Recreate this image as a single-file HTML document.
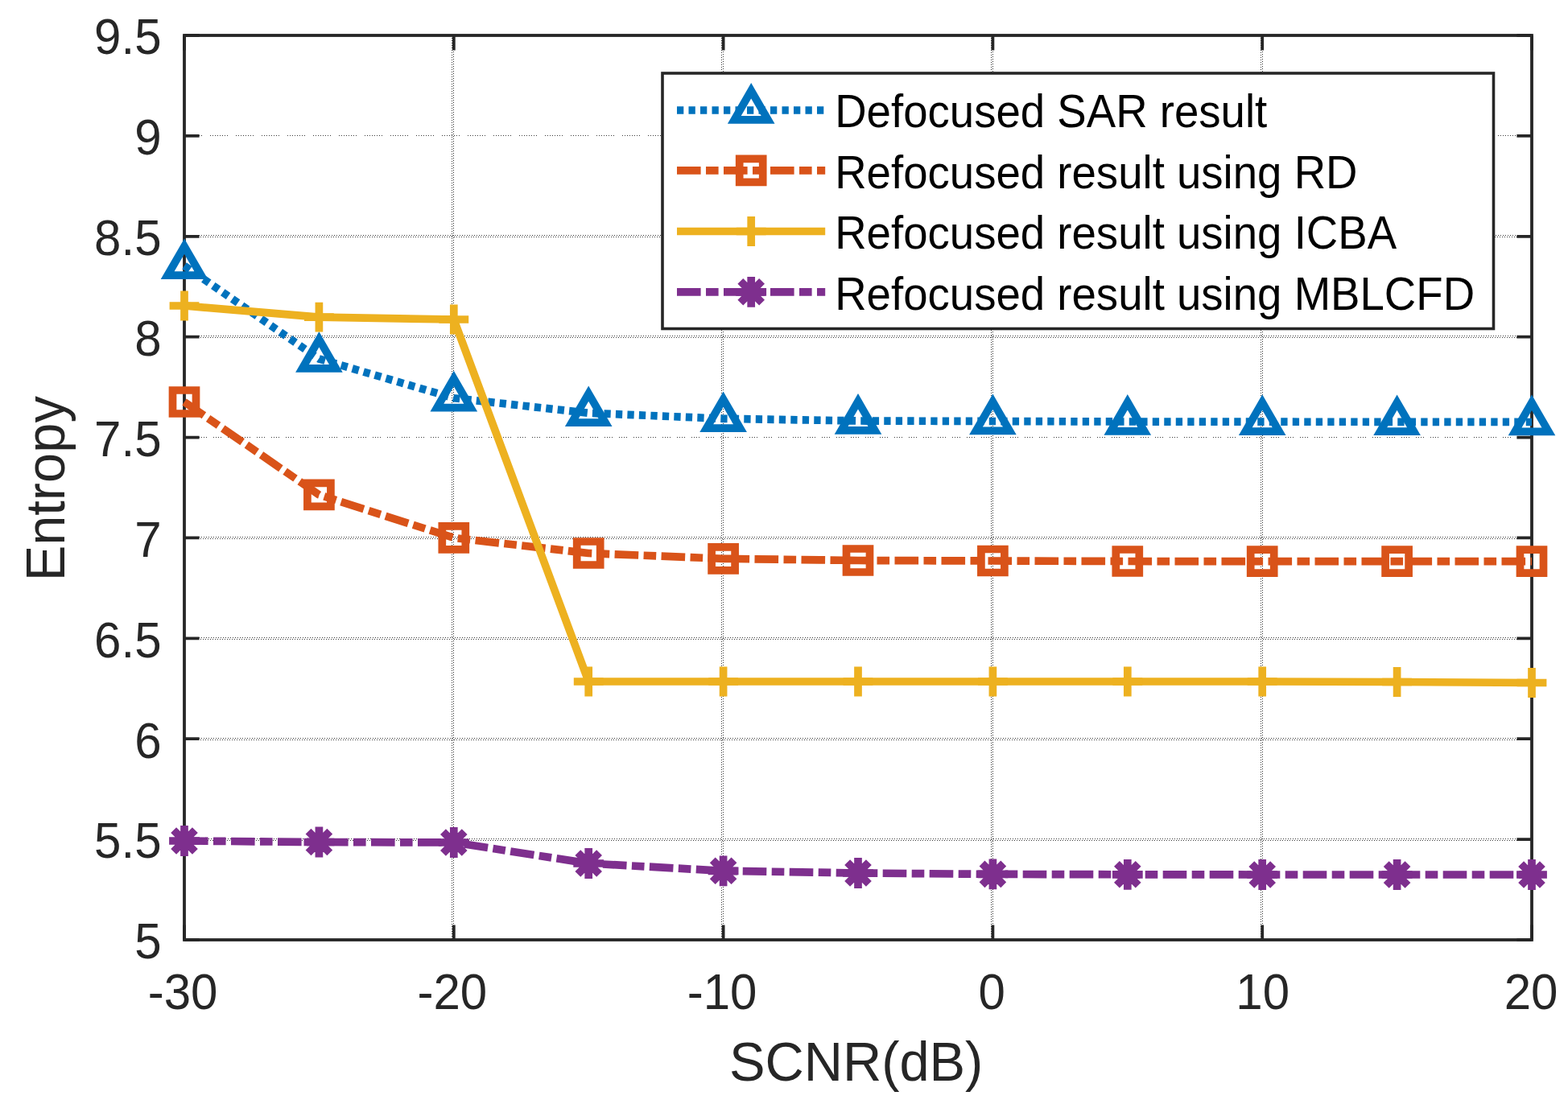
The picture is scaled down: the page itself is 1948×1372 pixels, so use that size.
<!DOCTYPE html>
<html><head><meta charset="utf-8"><title>Entropy vs SCNR</title>
<style>html,body{margin:0;padding:0;background:#fff;width:1948px;height:1372px;overflow:hidden}svg{display:block}</style>
</head><body>
<svg width="1948" height="1372" viewBox="0 0 1948 1372" font-family='"Liberation Sans", Arial, Helvetica, sans-serif'><rect width="100%" height="100%" fill="#fff"/><g stroke="#1a1a1a" stroke-width="1" stroke-dasharray="1 2" opacity="0.85" shape-rendering="crispEdges"><line x1="561.5" y1="44" x2="561.5" y2="1168"/><line x1="563.5" y1="44" x2="563.5" y2="1168" stroke-dashoffset="1.5"/><line x1="896.5" y1="44" x2="896.5" y2="1168"/><line x1="898.5" y1="44" x2="898.5" y2="1168" stroke-dashoffset="1.5"/><line x1="1231.5" y1="44" x2="1231.5" y2="1168"/><line x1="1233.5" y1="44" x2="1233.5" y2="1168" stroke-dashoffset="1.5"/><line x1="1566.5" y1="44" x2="1566.5" y2="1168"/><line x1="1568.5" y1="44" x2="1568.5" y2="1168" stroke-dashoffset="1.5"/><line x1="229" y1="168.5" x2="1903" y2="168.5" stroke-dasharray="1 2 1 2 1 2 1 2 1 2 1 2 1 2 1 10"/><line x1="229" y1="292.5" x2="1903" y2="292.5"/><line x1="229" y1="294.5" x2="1903" y2="294.5" stroke-dashoffset="1.5"/><line x1="229" y1="417.5" x2="1903" y2="417.5"/><line x1="229" y1="419.5" x2="1903" y2="419.5" stroke-dashoffset="1.5"/><line x1="229" y1="543.5" x2="1903" y2="543.5" stroke-dasharray="1 2 1 2 1 2 1 8"/><line x1="229" y1="667.5" x2="1903" y2="667.5"/><line x1="229" y1="669.5" x2="1903" y2="669.5" stroke-dashoffset="1.5"/><line x1="229" y1="792.5" x2="1903" y2="792.5"/><line x1="229" y1="794.5" x2="1903" y2="794.5" stroke-dashoffset="1.5"/><line x1="229" y1="917.5" x2="1903" y2="917.5"/><line x1="229" y1="919.5" x2="1903" y2="919.5" stroke-dashoffset="1.5"/><line x1="229" y1="1042.5" x2="1903" y2="1042.5"/><line x1="229" y1="1044.5" x2="1903" y2="1044.5" stroke-dashoffset="1.5"/></g><rect x="229" y="44" width="1674" height="1124" fill="none" stroke="#262626" stroke-width="3.8"/><path d="M229 1168V1149.4M229 44V62.6M563.8 1168V1149.4M563.8 44V62.6M898.6 1168V1149.4M898.6 44V62.6M1233.4 1168V1149.4M1233.4 44V62.6M1568.2 1168V1149.4M1568.2 44V62.6M1903 1168V1149.4M1903 44V62.6M229 44H247.6M1903 44H1884.4M229 168.89H247.6M1903 168.89H1884.4M229 293.78H247.6M1903 293.78H1884.4M229 418.67H247.6M1903 418.67H1884.4M229 543.56H247.6M1903 543.56H1884.4M229 668.44H247.6M1903 668.44H1884.4M229 793.33H247.6M1903 793.33H1884.4M229 918.22H247.6M1903 918.22H1884.4M229 1043.11H247.6M1903 1043.11H1884.4M229 1168H247.6M1903 1168H1884.4" stroke="#262626" stroke-width="3.8" fill="none"/><g font-size="60" fill="#262626"><text transform="translate(200.5 67.3) scale(1 1.05)" text-anchor="end">9.5</text><text transform="translate(200.5 192.19) scale(1 1.05)" text-anchor="end">9</text><text transform="translate(200.5 317.08) scale(1 1.05)" text-anchor="end">8.5</text><text transform="translate(200.5 441.97) scale(1 1.05)" text-anchor="end">8</text><text transform="translate(200.5 566.86) scale(1 1.05)" text-anchor="end">7.5</text><text transform="translate(200.5 691.74) scale(1 1.05)" text-anchor="end">7</text><text transform="translate(200.5 816.63) scale(1 1.05)" text-anchor="end">6.5</text><text transform="translate(200.5 941.52) scale(1 1.05)" text-anchor="end">6</text><text transform="translate(200.5 1066.41) scale(1 1.05)" text-anchor="end">5.5</text><text transform="translate(200.5 1191.3) scale(1 1.05)" text-anchor="end">5</text><text transform="translate(227 1254) scale(1 1.05)" text-anchor="middle">-30</text><text transform="translate(561.8 1254) scale(1 1.05)" text-anchor="middle">-20</text><text transform="translate(897.1 1254) scale(1 1.05)" text-anchor="middle">-10</text><text transform="translate(1232.1 1254) scale(1 1.05)" text-anchor="middle">0</text><text transform="translate(1568.7 1254) scale(1 1.05)" text-anchor="middle">10</text><text transform="translate(1902 1254) scale(1 1.05)" text-anchor="middle">20</text></g><text transform="translate(1063.6 1342.7) scale(1.012 1.04)" font-size="66" fill="#262626" text-anchor="middle">SCNR(dB)</text><text transform="translate(80.1 607.3) rotate(-90) scale(1.012 1.045)" font-size="66" fill="#262626" text-anchor="middle">Entropy</text><polyline points="229,330.3 396.4,446 563.8,494.7 731.2,513.3 898.6,520.3 1066,523 1233.4,523.5 1400.8,524 1568.2,524.2 1735.6,524.3 1903,524.5" fill="none" stroke="#0072BD" stroke-width="9.7" stroke-linejoin="round" stroke-dasharray="8.3 6.2"/><path d="M229 306.1L249.9 342.2L208.1 342.2ZM396.4 421.8L417.3 457.9L375.5 457.9ZM563.8 470.5L584.7 506.6L542.9 506.6ZM731.2 489.1L752.1 525.2L710.3 525.2ZM898.6 496.1L919.5 532.2L877.7 532.2ZM1066 498.8L1086.9 534.9L1045.1 534.9ZM1233.4 499.3L1254.3 535.4L1212.5 535.4ZM1400.8 499.8L1421.7 535.9L1379.9 535.9ZM1568.2 500L1589.1 536.1L1547.3 536.1ZM1735.6 500.1L1756.5 536.2L1714.7 536.2ZM1903 500.3L1923.9 536.4L1882.1 536.4Z" fill="none" stroke="#0072BD" stroke-width="9.7" stroke-linejoin="miter" stroke-miterlimit="10"/><polyline points="229,499.5 396.4,614.9 563.8,668.4 731.2,687.5 898.6,694.3 1066,696.5 1233.4,697 1400.8,697.5 1568.2,697.7 1735.6,697.7 1903,697.7" fill="none" stroke="#D95319" stroke-width="9.7" stroke-linejoin="round" stroke-dasharray="29.6 6.4 15.6 6.4"/><path d="M214.5 485H243.5V514H214.5ZM381.9 600.4H410.9V629.4H381.9ZM549.3 653.9H578.3V682.9H549.3ZM716.7 673H745.7V702H716.7ZM884.1 679.8H913.1V708.8H884.1ZM1051.5 682H1080.5V711H1051.5ZM1218.9 682.5H1247.9V711.5H1218.9ZM1386.3 683H1415.3V712H1386.3ZM1553.7 683.2H1582.7V712.2H1553.7ZM1721.1 683.2H1750.1V712.2H1721.1ZM1888.5 683.2H1917.5V712.2H1888.5Z" fill="none" stroke="#D95319" stroke-width="9.7" stroke-linejoin="miter" stroke-miterlimit="10"/><polyline points="229,380 396.4,394.2 563.8,397 731.2,847 898.6,847 1066,847 1233.4,847 1400.8,847 1568.2,847 1735.6,847.5 1903,848.5" fill="none" stroke="#EDB120" stroke-width="9.7" stroke-linejoin="round"/><path d="M210.6 380H247.4M229 361.6V398.4M378 394.2H414.8M396.4 375.8V412.6M545.4 397H582.2M563.8 378.6V415.4M712.8 847H749.6M731.2 828.6V865.4M880.2 847H917M898.6 828.6V865.4M1047.6 847H1084.4M1066 828.6V865.4M1215 847H1251.8M1233.4 828.6V865.4M1382.4 847H1419.2M1400.8 828.6V865.4M1549.8 847H1586.6M1568.2 828.6V865.4M1717.2 847.5H1754M1735.6 829.1V865.9M1884.6 848.5H1921.4M1903 830.1V866.9" fill="none" stroke="#EDB120" stroke-width="9.7" stroke-linejoin="miter" stroke-miterlimit="10"/><polyline points="229,1045 396.4,1046.5 563.8,1047 731.2,1073 898.6,1082.3 1066,1085 1233.4,1086.4 1400.8,1086.8 1568.2,1087 1735.6,1087 1903,1087" fill="none" stroke="#7E2F8E" stroke-width="9.7" stroke-linejoin="round" stroke-dasharray="29.6 6.4 15.6 6.4"/><path d="M210.1 1045H247.9M229 1026.1V1063.9M215.64 1031.64L242.36 1058.36M215.64 1058.36L242.36 1031.64M377.5 1046.5H415.3M396.4 1027.6V1065.4M383.04 1033.14L409.76 1059.86M383.04 1059.86L409.76 1033.14M544.9 1047H582.7M563.8 1028.1V1065.9M550.44 1033.64L577.16 1060.36M550.44 1060.36L577.16 1033.64M712.3 1073H750.1M731.2 1054.1V1091.9M717.84 1059.64L744.56 1086.36M717.84 1086.36L744.56 1059.64M879.7 1082.3H917.5M898.6 1063.4V1101.2M885.24 1068.94L911.96 1095.66M885.24 1095.66L911.96 1068.94M1047.1 1085H1084.9M1066 1066.1V1103.9M1052.64 1071.64L1079.36 1098.36M1052.64 1098.36L1079.36 1071.64M1214.5 1086.4H1252.3M1233.4 1067.5V1105.3M1220.04 1073.04L1246.76 1099.76M1220.04 1099.76L1246.76 1073.04M1381.9 1086.8H1419.7M1400.8 1067.9V1105.7M1387.44 1073.44L1414.16 1100.16M1387.44 1100.16L1414.16 1073.44M1549.3 1087H1587.1M1568.2 1068.1V1105.9M1554.84 1073.64L1581.56 1100.36M1554.84 1100.36L1581.56 1073.64M1716.7 1087H1754.5M1735.6 1068.1V1105.9M1722.24 1073.64L1748.96 1100.36M1722.24 1100.36L1748.96 1073.64M1884.1 1087H1921.9M1903 1068.1V1105.9M1889.64 1073.64L1916.36 1100.36M1889.64 1100.36L1916.36 1073.64" fill="none" stroke="#7E2F8E" stroke-width="9.7" stroke-linejoin="miter" stroke-miterlimit="10"/><rect x="823" y="91" width="1032.5" height="317.5" fill="#fff" stroke="#262626" stroke-width="3.6"/><line x1="841" y1="137" x2="1025.2" y2="137" stroke="#0072BD" stroke-width="9.7" stroke-dasharray="8.3 6.2"/><path d="M933.2 112.8L954.1 148.9L912.3 148.9Z" fill="none" stroke="#0072BD" stroke-width="9.7" stroke-miterlimit="10"/><line x1="841" y1="211.8" x2="1025.2" y2="211.8" stroke="#D95319" stroke-width="9.7" stroke-dasharray="29.6 6.4 15.6 6.4"/><path d="M918.7 197.3H947.7V226.3H918.7Z" fill="none" stroke="#D95319" stroke-width="9.7" stroke-miterlimit="10"/><line x1="841" y1="287.5" x2="1025.2" y2="287.5" stroke="#EDB120" stroke-width="9.7"/><path d="M914.8 287.5H951.6M933.2 269.1V305.9" fill="none" stroke="#EDB120" stroke-width="9.7" stroke-miterlimit="10"/><line x1="841" y1="362.8" x2="1025.2" y2="362.8" stroke="#7E2F8E" stroke-width="9.7" stroke-dasharray="29.6 6.4 15.6 6.4"/><path d="M914.3 362.8H952.1M933.2 343.9V381.7M919.84 349.44L946.56 376.16M919.84 376.16L946.56 349.44" fill="none" stroke="#7E2F8E" stroke-width="9.7" stroke-miterlimit="10"/><text transform="translate(1037.2 157.8) scale(1.011 1.065)" font-size="54" fill="#000">Defocused SAR result</text><text transform="translate(1037.2 234.1) scale(1.011 1.065)" font-size="54" fill="#000">Refocused result using RD</text><text transform="translate(1037.2 308.9) scale(1.011 1.065)" font-size="54" fill="#000">Refocused result using ICBA</text><text transform="translate(1037.2 385) scale(1.011 1.065)" font-size="54" fill="#000">Refocused result using MBLCFD</text></svg>
</body></html>
